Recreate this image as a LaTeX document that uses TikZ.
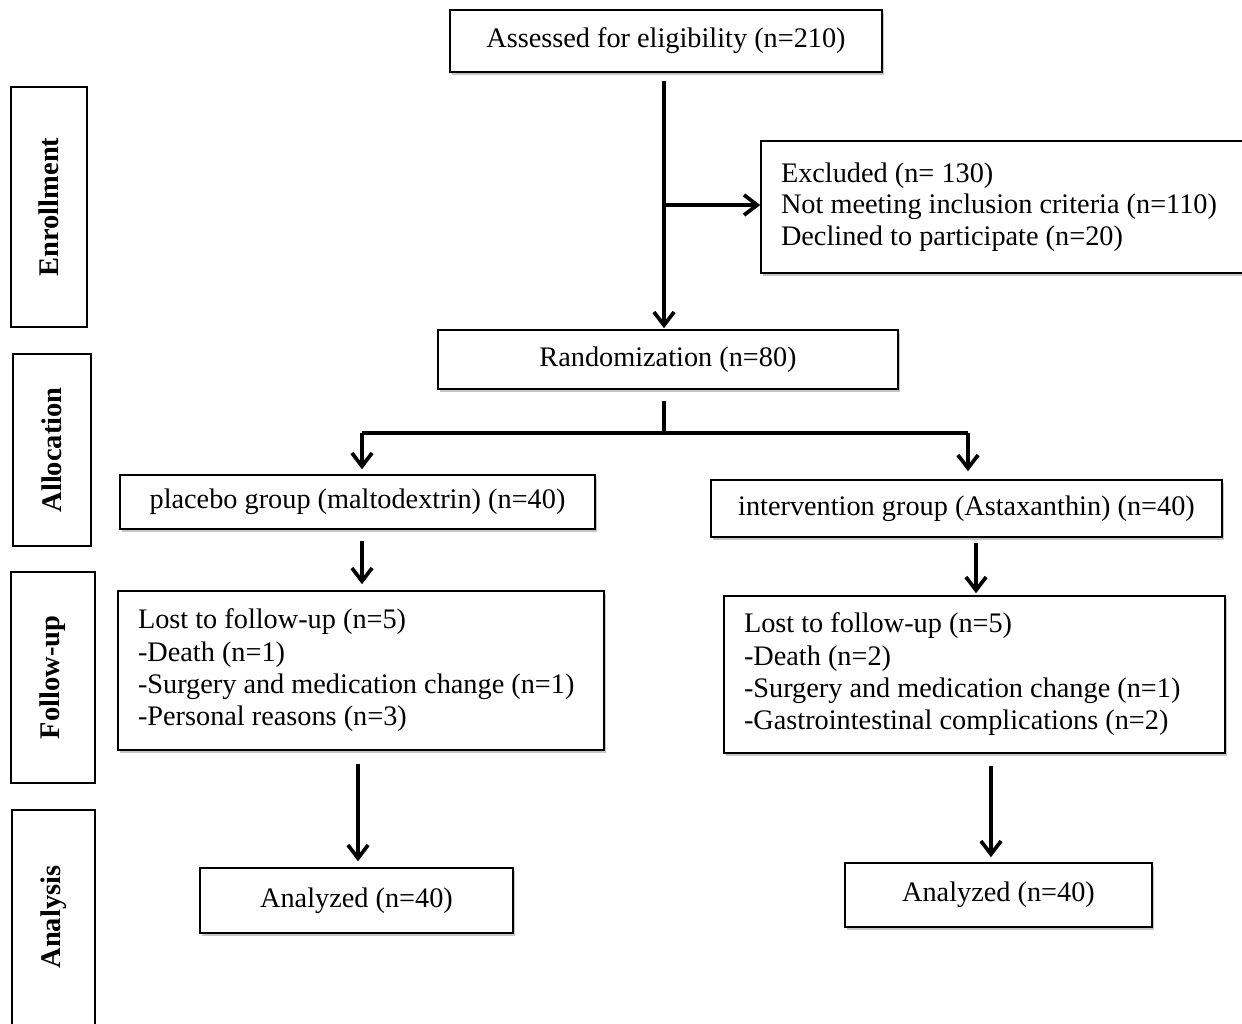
\documentclass[tikz,border=0pt]{standalone}
\usepackage{fontspec}
\setmainfont{Liberation Serif}
\usetikzlibrary{arrows.meta,shadows}
\begin{document}
\begin{tikzpicture}[x=0.02cm,y=-0.02cm,
  box/.style={draw, line width=0.9pt, fill=white,
    drop shadow={shadow xshift=1.2pt, shadow yshift=-1.5pt, fill=black!45, opacity=0.5},
    font=\fontsize{16.1}{18.4}\selectfont, inner sep=0pt, align=center},
  listbox/.style={box, align=flush left, inner xsep=0.4cm},
  side/.style={draw, line width=0.8pt, fill=white, inner sep=0pt,
    font=\fontsize{16}{18.4}\selectfont\bfseries},
  sidelabel/.style={rotate=90, font=\fontsize{16.2}{18.4}\selectfont\bfseries},
  conn/.style={line width=1.8pt},
  arr/.style={conn, -{Straight Barb[length=7.5pt,width=11.5pt,line width=2.1pt]}}
]
\useasboundingbox (0,0) rectangle (1242,1024);

% stage boxes
\node[side, minimum width=76*0.02cm, minimum height=240*0.02cm] (senr) at (49,207) {};
\node[sidelabel] (lenr) at (senr.center) {Enrollment};
\node[side, minimum width=78*0.02cm, minimum height=192*0.02cm] (salloc) at (52,450) {};
\node[sidelabel] (lalloc) at (salloc.center) {Allocation};
\node[side, minimum width=84*0.02cm, minimum height=211*0.02cm] (sfol) at (53,677.5) {};
\node[sidelabel] (lfol) at (sfol.center) {Follow-up};
\node[side, minimum width=83*0.02cm, minimum height=220*0.02cm] (sana) at (53.5,920) {};
\node[sidelabel] (lana) at (53.5,917) {Analysis};

% main boxes
\node[box, minimum width=432*0.02cm, minimum height=62*0.02cm] (assess) at (666,41) {Assessed for eligibility (n=210)};
\node[listbox, text width=449*0.02cm, minimum height=132*0.02cm] (excl) at (1005.5,207)
  {Excluded (n= 130)\\[-0.5pt]Not meeting inclusion criteria (n=110)\\[-0.5pt]Declined to participate (n=20)};
\node[box, minimum width=460*0.02cm, minimum height=59*0.02cm] (rand) at (668,359.5) {Randomization (n=80)};
\node[box, minimum width=475*0.02cm, minimum height=54*0.02cm] (plac) at (357.5,502) {placebo group (maltodextrin) (n=40)};
\node[box, minimum width=511*0.02cm, minimum height=57*0.02cm] (interv) at (966.5,508.5) {intervention group (Astaxanthin) (n=40)};
\node[listbox, text width=446*0.02cm, minimum height=159*0.02cm] (lostL) at (361,670.5)
  {Lost to follow-up (n=5)\\-Death (n=1)\\-Surgery and medication change (n=1)\\-Personal reasons (n=3)};
\node[listbox, text width=461*0.02cm, minimum height=157*0.02cm] (lostR) at (974.5,674.5)
  {Lost to follow-up (n=5)\\-Death (n=2)\\-Surgery and medication change (n=1)\\-Gastrointestinal complications (n=2)};
\node[box, minimum width=313*0.02cm, minimum height=65*0.02cm] (anaL) at (356.5,900.5) {Analyzed (n=40)};
\node[box, minimum width=307*0.02cm, minimum height=64*0.02cm] (anaR) at (998.5,895) {Analyzed (n=40)};

% helper coordinates
\coordinate (c1) at (664,80);
\coordinate (j1) at (664,205);
\coordinate (split) at (664,433);
\coordinate (sL) at (362,433);
\coordinate (sR) at (968,433);
\coordinate (cR2) at (976,0);
\coordinate (cL3) at (358,0);
\coordinate (cR3) at (991,0);

% connectors
\draw[arr, shorten <=8*0.02cm, shorten >=1*0.02cm] (assess.south -| c1) -- (rand.north -| c1);
\draw[arr] (j1) -- (j1 -| excl.west);
\draw[conn, shorten <=11*0.02cm] (rand.south -| split) -- (split);
\draw[conn] (sL) -- (sR);
\draw[arr, shorten >=5*0.02cm] (sL) -- (sL |- plac.north);
\draw[arr, shorten >=8*0.02cm] (sR) -- (sR |- interv.north);
\draw[arr, shorten <=11*0.02cm, shorten >=6*0.02cm] (plac.south -| sL) -- (lostL.north -| sL);
\draw[arr, shorten <=5*0.02cm, shorten >=2*0.02cm] (interv.south -| cR2) -- (lostR.north -| cR2);
\draw[arr, shorten <=13*0.02cm, shorten >=6*0.02cm] (lostL.south -| cL3) -- (anaL.north -| cL3);
\draw[arr, shorten <=12*0.02cm, shorten >=5*0.02cm] (lostR.south -| cR3) -- (anaR.north -| cR3);
\end{tikzpicture}
\end{document}
